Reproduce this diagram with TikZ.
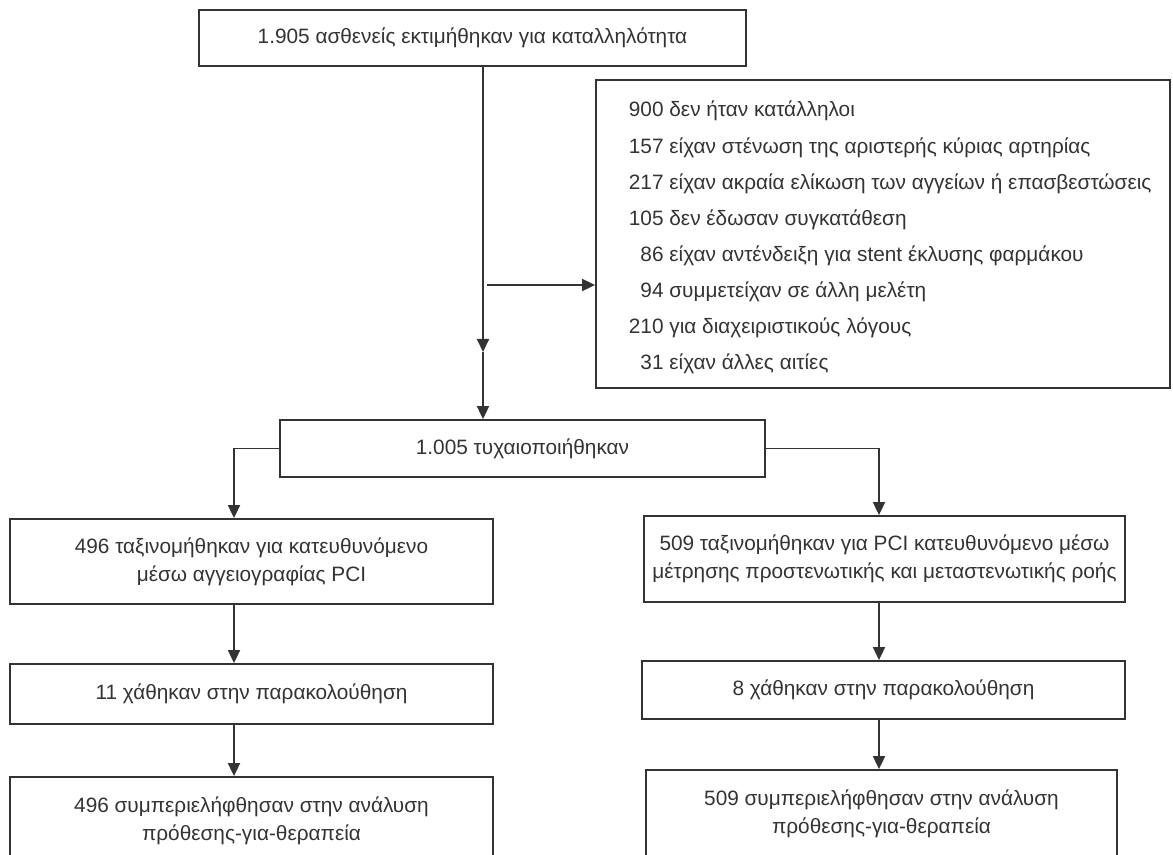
\documentclass[tikz,border=0pt]{standalone}
\usepackage{fontspec}
\setmainfont{Liberation Sans}
\usetikzlibrary{arrows.meta}
\definecolor{ink}{HTML}{333333}
\begin{document}
\begin{tikzpicture}[x=0.5pt,y=-0.5pt,
  font=\fontsize{10.4pt}{14pt}\selectfont,
  box/.style={draw=ink,line width=0.9pt,inner sep=0pt,align=center,text=ink},
  arr/.style={draw=ink,line width=0.9pt,-{Triangle[length=6.5pt,width=6pt]}}]
\path[use as bounding box,clip] (0,0) rectangle (1173,855);
% boxes
\node[box,minimum width=273.5pt,minimum height=28pt] (top) at (472.5,38) {1.905 ασθενείς εκτιμήθηκαν για καταλληλότητα};
\node[box,minimum width=287pt,minimum height=154pt] (excl) at (883,234) {};
\node[box,minimum width=242.5pt,minimum height=28.5pt] (rand) at (522.5,448.5) {1.005 τυχαιοποιήθηκαν};
\node[box,minimum width=241.5pt,minimum height=42.5pt] (left1) at (251.5,561.5) {496 ταξινομήθηκαν για κατευθυνόμενο\\μέσω αγγειογραφίας PCI};
\node[box,minimum width=241.5pt,minimum height=30pt] (left2) at (251.5,694) {11 χάθηκαν στην παρακολούθηση};
\node[box,minimum width=241.5pt,minimum height=44pt] (left3) at (251.5,821) {496 συμπεριελήφθησαν στην ανάλυση\\πρόθεσης-για-θεραπεία};
\node[box,minimum width=240.5pt,minimum height=43pt] (right1) at (884.5,559) {509 ταξινομήθηκαν για PCI κατευθυνόμενο μέσω\\μέτρησης προστενωτικής και μεταστενωτικής ροής};
\node[box,minimum width=241.5pt,minimum height=29pt] (right2) at (883.5,690) {8 χάθηκαν στην παρακολούθηση};
\node[box,minimum width=235.5pt,minimum height=43.5pt] (right3) at (881.5,813.5) {509 συμπεριελήφθησαν στην ανάλυση\\πρόθεσης-για-θεραπεία};
% exclusion list
\foreach \n/\txt [count=\i] in {900/{δεν ήταν κατάλληλοι},157/{είχαν στένωση της αριστερής κύριας αρτηρίας},217/{είχαν ακραία ελίκωση των αγγείων ή επασβεστώσεις},105/{δεν έδωσαν συγκατάθεση},86/{είχαν αντένδειξη για stent έκλυσης φαρμάκου},94/{συμμετείχαν σε άλλη μελέτη},210/{για διαχειριστικούς λόγους},31/{είχαν άλλες αιτίες}}{
  \node[anchor=base east,inner sep=0pt,text=ink] (num\i) at (664,{80.86+36.14*\i}) {\n};
  \node[anchor=base west,inner sep=0pt,text=ink] (why\i) at (669,{80.86+36.14*\i}) {\txt};
}
% connectors
\coordinate (mid) at (483,352);
\coordinate (branch) at (487,285);
\coordinate (lx) at (234,0);
\coordinate (rx) at (879,0);
\draw[arr] (top.south -| mid) -- (mid);
\draw[arr] (mid) -- (rand.north -| mid);
\draw[arr] (branch) -- (excl.west |- branch);
\draw[arr] (rand.west) -| (left1.north -| lx);
\draw[arr] (left1.south -| lx) -- (left2.north -| lx);
\draw[arr] (left2.south -| lx) -- (left3.north -| lx);
\draw[arr] (rand.east) -| (right1.north -| rx);
\draw[arr] (right1.south -| rx) -- (right2.north -| rx);
\draw[arr] (right2.south -| rx) -- (right3.north -| rx);
\end{tikzpicture}
\end{document}
